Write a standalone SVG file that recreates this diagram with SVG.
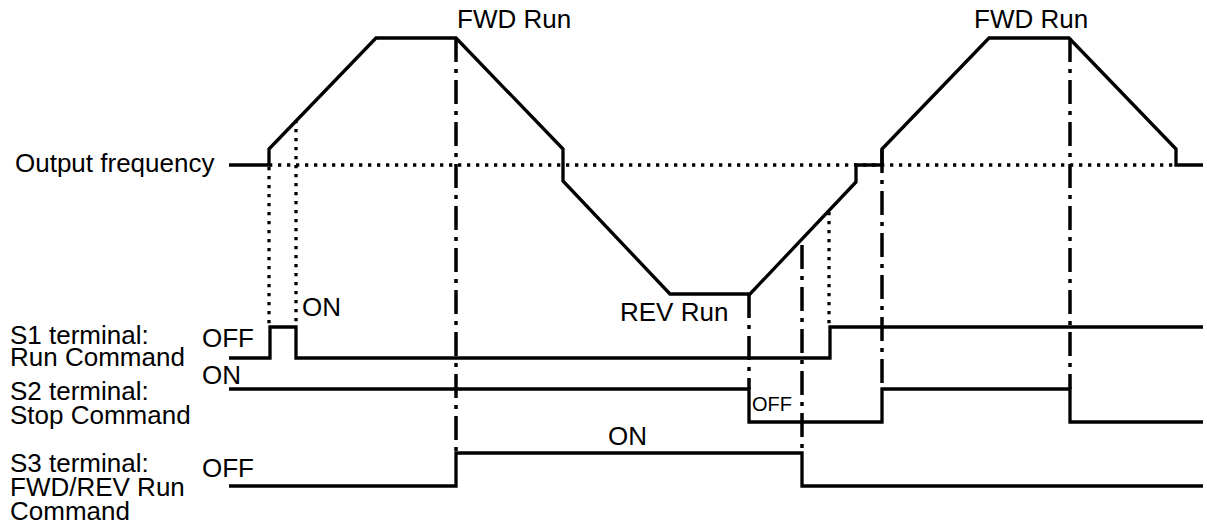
<svg xmlns="http://www.w3.org/2000/svg" width="1207" height="526" viewBox="0 0 1207 526">
<style>
text{font-family:"Liberation Sans",Arial,sans-serif;font-size:26px;fill:#000}
.sig{fill:none;stroke:#000;stroke-width:3.3;stroke-linejoin:miter;stroke-linecap:butt}
.dot{fill:none;stroke:#000;stroke-width:3.3;stroke-dasharray:3.3 5.7}
.dd{fill:none;stroke:#000;stroke-width:3.5;stroke-dasharray:24 7 4 7}
</style>
<rect width="1207" height="526" fill="#fff"/>
<g id="connectors">
<path class="dot" d="M269,165 H1176"/>
<path class="dot" d="M269,167 V327 M296,120 V327 M829,212 V327"/>
<path class="dd" d="M456,38 V453 M749,294 V389 M802,245 V453 M882,149 V389 M1070,38 V389"/>
</g>
<g id="output-frequency">
<path class="sig" d="M229,165 H269 V149 L376,38 H456 L563,149 V181 L670,294 H750 L856,182 V165 H882 V149 L989,38 H1069 L1176,149 V165 H1203"/>
<text x="15" y="172">Output frequency</text>
<text x="457" y="28">FWD Run</text>
<text x="974" y="28">FWD Run</text>
<text x="620" y="321">REV Run</text>
</g>
<g id="s1">
<path class="sig" d="M229,358 H270 V327 H296 V358 H830 V327 H1203"/>
<text x="10" y="344">S1 terminal:</text>
<text x="10" y="366">Run Command</text>
<text x="202" y="347">OFF</text>
<text x="302" y="316">ON</text>
</g>
<g id="s2">
<path class="sig" d="M229,389 H749 V422 H882 V389 H1070 V422 H1203"/>
<text x="10" y="400">S2 terminal:</text>
<text x="10" y="424">Stop Command</text>
<text x="202" y="384">ON</text>
<text x="752" y="411" style="font-size:20px">OFF</text>
</g>
<g id="s3">
<path class="sig" d="M229,486 H456 V453 H802 V486 H1203"/>
<text x="10" y="472">S3 terminal:</text>
<text x="10" y="496">FWD/REV Run</text>
<text x="10" y="520">Command</text>
<text x="202" y="477">OFF</text>
<text x="608" y="445">ON</text>
</g>
</svg>
